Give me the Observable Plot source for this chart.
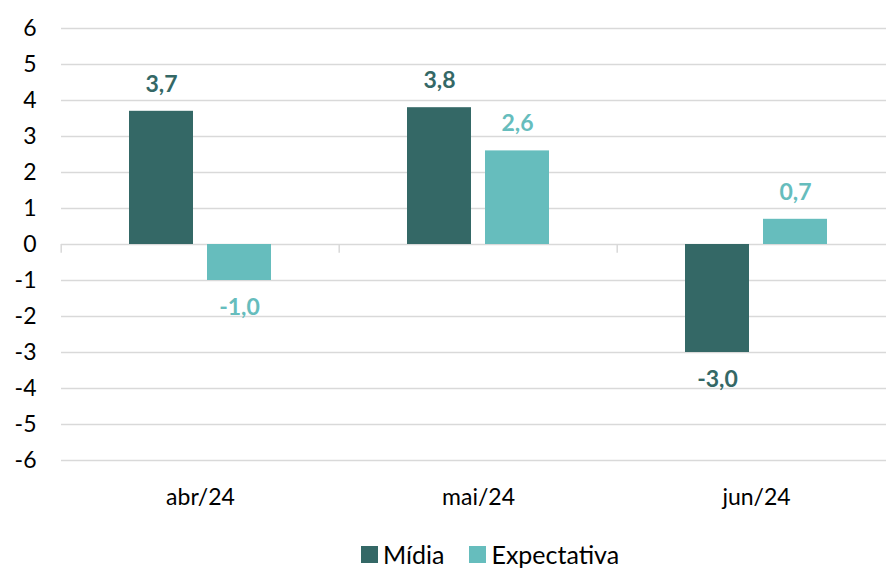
<!DOCTYPE html>
<html><head><meta charset="utf-8">
<script src="https://cdn.jsdelivr.net/npm/d3@7"></script>
<script src="https://cdn.jsdelivr.net/npm/@observablehq/plot@0.6"></script>
<style>
body{margin:0;background:#fff;font-family:Lato,sans-serif;}
#chart{position:relative;width:886px;height:569px;overflow:hidden;background:#fff;}
#legend{position:absolute;left:361px;top:542px;display:flex;align-items:center;font-size:25px;line-height:25px;color:#000;white-space:nowrap;}
#legend .sw{display:inline-block;width:17px;height:17px;margin-right:5px;}
#legend .item{display:flex;align-items:center;margin-right:25px;}
</style></head><body><div id="chart"></div>
<script>
const months = ["abr/24", "mai/24", "jun/24"];
const seriesNames = ["Mídia", "Expectativa"];
const midia = [3.7, 3.8, -3.0];
const expectativa = [-1.0, 2.6, 0.7];
const yTicks = [-6, -5, -4, -3, -2, -1, 0, 1, 2, 3, 4, 5, 6];
const colors = ["#346866", "#66BDBD"];

const data = months.flatMap((m, i) => [
  {month: m, series: seriesNames[0], value: midia[i]},
  {month: m, series: seriesNames[1], value: expectativa[i]}
]);
const fmt = v => v.toFixed(1).replace(".", ",");

const plot = Plot.plot({
  width: 886, height: 530,
  marginLeft: 60, marginRight: 0, marginTop: 28, marginBottom: 70,
  style: {fontFamily: "Lato, sans-serif", fontSize: "23px", color: "#000", background: "#fff", overflow: "visible"},
  fx: {domain: months, range: [60, 896], padding: 0, label: null},
  x: {domain: seriesNames, paddingInner: 0.18, paddingOuter: 0.85, axis: null},
  y: {domain: [-6, 6], label: null},
  color: {domain: seriesNames, range: colors},
  marks: [
    Plot.ruleY(yTicks, {stroke: "#D9D9D9", strokeWidth: 1.5}),
    Plot.ruleX([0], {x: null, y1: 0, y2: -0.24, dx: -139.3, stroke: "#D9D9D9", strokeWidth: 1.5}),
    Plot.barY(data, {fx: "month", x: "series", y: "value", fill: "series"}),
    Plot.text(data.filter(d => d.value >= 0), {fx: "month", x: "series", y: "value", text: d => fmt(d.value), fill: "series", dy: -27, fontWeight: "bold", fontSize: 23}),
    Plot.text(data.filter(d => d.value < 0), {fx: "month", x: "series", y: "value", text: d => fmt(d.value), fill: "series", dy: 27, fontWeight: "bold", fontSize: 23}),
    Plot.axisY({ticks: yTicks, tickSize: 0, tickPadding: 25, tickFormat: d => String(d), fill: "#000"}),
    Plot.axisFx({anchor: "bottom", tickSize: 0, tickPadding: 28, label: null, fill: "#000"})
  ]
});
const chart = document.getElementById("chart");
chart.appendChild(plot);
const legend = document.createElement("div");
legend.id = "legend";
seriesNames.forEach((s, i) => {
  const it = document.createElement("span");
  it.className = "item";
  const sw = document.createElement("span");
  sw.className = "sw";
  sw.style.background = colors[i];
  it.appendChild(sw);
  it.appendChild(document.createTextNode(s));
  legend.appendChild(it);
});
chart.appendChild(legend);
</script>
</body></html>
